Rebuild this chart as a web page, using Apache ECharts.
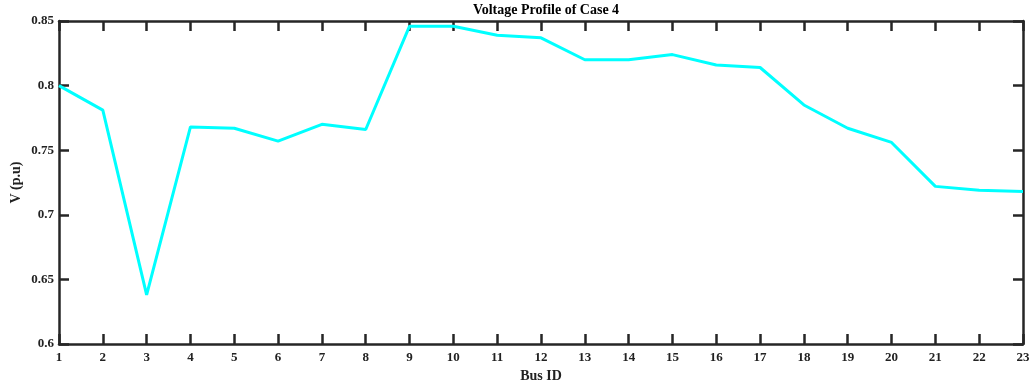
<!DOCTYPE html>
<html>
<head>
<meta charset="utf-8">
<script src="https://cdn.jsdelivr.net/npm/echarts@6/dist/echarts.min.js"></script>
<style>
  html, body { margin: 0; padding: 0; background: #fff; }
  #chart { width: 1032px; height: 387px; }
</style>
</head>
<body>
<div id="chart"></div>
<script>
const busIds = [1, 2, 3, 4, 5, 6, 7, 8, 9, 10, 11, 12, 13, 14, 15, 16, 17, 18, 19, 20, 21, 22, 23]
const voltage = [0.800, 0.781, 0.638, 0.768, 0.767, 0.757, 0.770, 0.766, 0.846, 0.846, 0.839, 0.837,
  0.820, 0.820, 0.824, 0.816, 0.814, 0.785, 0.767, 0.756, 0.722, 0.719, 0.718]
const yTicks = [0.6, 0.65, 0.7, 0.75, 0.8, 0.85]

const font = 'Liberation Serif'
const axisColor = '#262626'

const chart = echarts.init(document.getElementById('chart'))

const baseX = {
  type: 'value',
  min: 1,
  max: 23,
  interval: 1,
  axisLine: { show: true, onZero: false, lineStyle: { color: axisColor, width: 2.5 } },
  axisTick: { show: true, inside: true, length: 10, lineStyle: { color: axisColor, width: 2.5 } },
  splitLine: { show: false },
}
const baseY = {
  type: 'value',
  min: yTicks[0],
  max: yTicks[yTicks.length - 1],
  interval: 0.05,
  axisLine: { show: true, onZero: false, lineStyle: { color: axisColor, width: 2.5 } },
  axisTick: { show: true, inside: true, length: 10, lineStyle: { color: axisColor, width: 2.5 } },
  splitLine: { show: false },
}

chart.setOption({
  animation: false,
  backgroundColor: '#fff',
  title: {
    text: 'Voltage Profile of Case 4',
    left: 541,
    textAlign: 'center',
    top: -2,
    textStyle: { fontFamily: font, fontWeight: 'bold', fontSize: 14, color: '#000' },
  },
  grid: { left: 59, right: 9, top: 21, bottom: 43, containLabel: false, outerBoundsMode: 'none' },
  xAxis: [
    {
      ...baseX,
      position: 'bottom',
      name: 'Bus ID',
      nameLocation: 'middle',
      nameGap: 25,
      nameMoveOverlap: false,
      nameTextStyle: { fontFamily: font, fontWeight: 'bold', fontSize: 14, color: '#222' },
      axisLabel: { fontFamily: font, fontWeight: 'bold', fontSize: 13, color: '#222', margin: 7 },
    },
    { ...baseX, position: 'top', axisLabel: { show: false } },
  ],
  yAxis: [
    {
      ...baseY,
      position: 'left',
      name: 'V (p.u)',
      nameLocation: 'middle',
      nameGap: 36,
      nameMoveOverlap: false,
      nameTextStyle: { fontFamily: font, fontWeight: 'bold', fontSize: 14, color: '#222' },
      axisLabel: {
        fontFamily: font, fontWeight: 'bold', fontSize: 13, color: '#222', margin: 5,
        formatter: (v) => String(+v.toFixed(2)),
      },
    },
    { ...baseY, position: 'right', axisLabel: { show: false } },
  ],
  series: [
    {
      type: 'line',
      data: busIds.map((b, i) => [b, voltage[i]]),
      symbol: 'none',
      lineStyle: { color: '#00ffff', width: 3 },
      clip: true,
    },
  ],
})
</script>
</body>
</html>
